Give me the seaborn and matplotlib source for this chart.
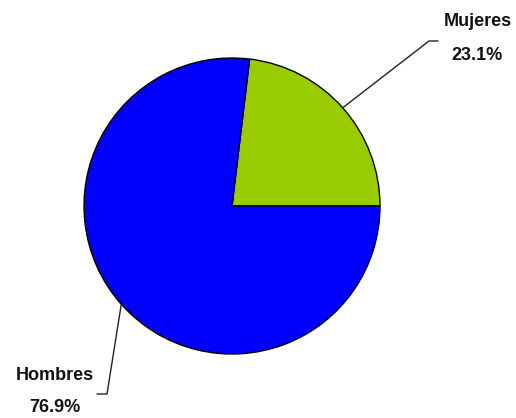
import numpy as np
import matplotlib
matplotlib.use("Agg")
import matplotlib.pyplot as plt
import seaborn as sns

categories = ["Mujeres", "Hombres"]
values = [23.1, 76.9]
pct_labels = ["23.1%", "76.9%"]
colors = ["#99CC00", "#0000FF"]

sns.set_theme(style="white")
plt.rcParams['font.family'] = ['Liberation Sans', 'DejaVu Sans']

W, H = 516, 418
fig = plt.figure(figsize=(W / 100, H / 100), dpi=100)
ax = fig.add_axes([0, 0, 1, 1])

cx, cy, r = 232, H - 206, 148
wedges, _ = ax.pie(values, colors=colors, startangle=0, counterclock=True,
                   center=(cx, cy), radius=r,
                   wedgeprops=dict(edgecolor="black", linewidth=1.0),
                   frame=True)
ax.set_xlim(0, W)
ax.set_ylim(0, H)
ax.set_aspect("equal")
ax.axis("off")

# leader line knees and label positions (layout, in pixel-like coords)
knees = [((429, H - 41), (438, H - 41)), ((107, H - 394), (97, H - 394))]
name_pos = [(478, H - 22), (55, H - 376)]
pct_pos = [(477, H - 56), (55, H - 407)]

for w, (k1, k2), npos, ppos, name, pct in zip(wedges, knees, name_pos, pct_pos,
                                             categories, pct_labels):
    ang = np.deg2rad((w.theta1 + w.theta2) / 2)
    sx, sy = cx + r * np.cos(ang), cy + r * np.sin(ang)
    ax.plot([sx, k1[0], k2[0]], [sy, k1[1], k2[1]], color="#222222", lw=1.0)
    ax.text(npos[0], npos[1], name, ha="center", va="center",
            fontsize=13, fontweight="bold", color="#111111")
    ax.text(ppos[0], ppos[1], pct, ha="center", va="center",
            fontsize=13, fontweight="bold", color="#111111")

fig.savefig("out.png", dpi=100)
